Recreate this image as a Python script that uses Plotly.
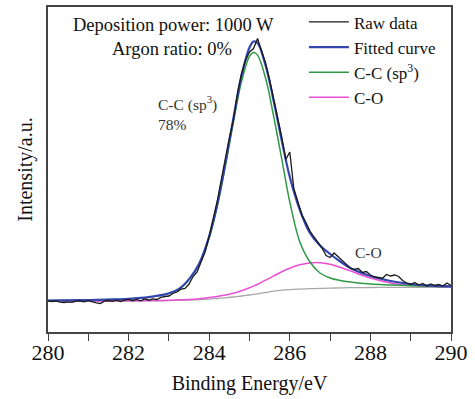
import plotly.graph_objects as go

# Fitted-curve energy grid (eV)
energy = [280, 280.5, 281, 281.5, 282, 282.5, 283, 283.25, 283.5, 283.75, 284, 284.2, 284.4,
          284.6, 284.8, 285.0, 285.1, 285.2, 285.4, 285.6, 285.8, 286.0, 286.25, 286.5, 286.75,
          287, 287.25, 287.5, 288, 288.5, 289, 289.5, 290]

background = [31.0, 31.0, 31.0, 31.0, 31.1, 31.2, 31.4, 31.6, 31.9, 32.3, 32.9, 33.5, 34.2,
              35.0, 36.0, 37.0, 37.6, 38.2, 39.5, 40.8, 41.8, 42.4, 42.9, 43.3, 43.6,
              43.9, 44.1, 44.3, 44.5, 44.6, 44.7, 44.7, 44.7]

cc_sp3 = [31.5, 31.7, 32.0, 32.4, 33.1, 34.7, 38.4, 42.6, 52.2, 67.3, 94.1, 125.7, 165.6,
          209.7, 250.2, 275.7, 279.6, 276.9, 253.7, 215.5, 173.2, 130.0, 90.0, 70.0, 59.0,
          54.0, 51.5, 50.0, 48.0, 47.1, 46.3, 45.7, 45.4]

c_o = [31.0, 31.0, 31.0, 31.1, 31.2, 31.4, 31.7, 32.2, 32.6, 33.3, 34.4, 35.5, 37.0,
       38.8, 41.3, 44.2, 45.9, 47.7, 51.8, 56.1, 60.2, 63.7, 67.2, 69.1, 69.3,
       67.7, 64.7, 61.1, 54.0, 49.1, 46.7, 45.7, 45.3]

fitted = [31.5, 31.7, 32.0, 32.5, 33.2, 34.9, 38.7, 43.2, 52.9, 68.3, 95.6, 127.7, 168.4,
          213.5, 256.0, 284.5, 290.5, 289.0, 266.5, 231.0, 191.6, 155.0, 122.0, 99.0, 86.5,
          78.0, 70.5, 64.0, 56.0, 51.0, 48.0, 46.3, 45.6]

# Raw spectrum
raw_energy = [280.0, 280.1, 280.2, 280.3, 280.4, 280.5, 280.6, 280.7, 280.8, 280.9,
              281.0, 281.1, 281.2, 281.3, 281.4, 281.5, 281.6, 281.7, 281.8, 281.9,
              282.0, 282.1, 282.2, 282.3, 282.4, 282.5, 282.6, 282.7, 282.8, 282.9,
              283.0, 283.1, 283.2, 283.3, 283.4, 283.5, 283.6, 283.7, 283.8, 283.9,
              284.0, 284.1, 284.2, 284.3, 284.4, 284.5, 284.6, 284.7, 284.8, 284.9,
              285.0, 285.1, 285.2, 285.3, 285.4, 285.5, 285.6, 285.7, 285.8, 285.9,
              286.0, 286.1, 286.2, 286.3, 286.4, 286.5, 286.6, 286.7, 286.8, 286.9,
              287.0, 287.1, 287.2, 287.3, 287.4, 287.5, 287.6, 287.7, 287.8, 287.9,
              288.0, 288.1, 288.2, 288.3, 288.4, 288.5, 288.6, 288.7, 288.8, 288.9,
              289.0, 289.1, 289.2, 289.3, 289.4, 289.5, 289.6, 289.7, 289.8, 289.9,
              290.0]
raw_intensity = [31.0, 30.5, 31.2, 29.8, 29.5, 30.2, 29.6, 30.8, 31.0, 30.2,
                 31.3, 30.0, 29.2, 28.5, 30.8, 31.5, 30.6, 31.8, 30.4, 31.9,
                 32.6, 31.3, 32.5, 31.2, 33.0, 31.8, 33.2, 32.5, 34.6, 35.5,
                 36.0, 38.5, 40.0, 42.8, 43.5, 48.0, 55.5, 60.2, 70.5, 80.3,
                 96.0, 113.2, 131.0, 152.5, 174.0, 194.0, 212.0, 238.5, 258.0, 271.5,
                 280.0, 283.5, 293.5, 282.0, 268.5, 252.0, 233.5, 214.0, 195.0, 172.5,
                 180.0, 143.5, 129.0, 117.0, 109.5, 101.0, 95.0, 89.0, 84.0, 76.5,
                 74.5, 79.0, 75.0, 71.5, 68.0, 64.0, 62.5, 63.5, 59.5, 60.5,
                 57.0, 55.0, 54.5, 53.8, 57.5, 56.0, 57.0, 55.5, 51.5, 49.0,
                 47.5, 49.5, 47.0, 48.5, 46.0, 48.0, 46.5, 47.5, 46.0, 49.0,
                 46.5]

FONT = "Liberation Serif"

fig = go.Figure()
fig.add_trace(go.Scatter(x=energy, y=background, mode="lines", line=dict(color="#a8a8a8", width=1.3, shape="spline"),
                         showlegend=False, hoverinfo="skip"))
fig.add_trace(go.Scatter(x=energy, y=c_o, mode="lines", name="C-O", legendrank=4,
                         line=dict(color="#ea4fd6", width=1.5, shape="spline")))
fig.add_trace(go.Scatter(x=energy, y=cc_sp3, mode="lines", name="C-C (sp<sup>3</sup>)", legendrank=3,
                         line=dict(color="#2f9a45", width=1.5, shape="spline")))
fig.add_trace(go.Scatter(x=energy, y=fitted, mode="lines", name="Fitted curve", legendrank=2,
                         line=dict(color="#3346b0", width=2.2, shape="spline")))
fig.add_trace(go.Scatter(x=raw_energy, y=raw_intensity, mode="lines", name="Raw data", legendrank=1,
                         line=dict(color="#1a1a1a", width=1.3)))

fig.update_layout(
    width=475, height=399,
    margin=dict(l=48, r=24, t=7, b=67, autoexpand=False),
    paper_bgcolor="white", plot_bgcolor="white",
    font=dict(family=FONT, color="#111111"),
    showlegend=True,
    legend=dict(x=0.635, y=1.008, xanchor="left", yanchor="top", bgcolor="rgba(0,0,0,0)",
                font=dict(family=FONT, size=17, color="#111111"), tracegroupgap=0,
                borderwidth=0, itemwidth=40),
    xaxis=dict(range=[280, 290], tick0=280, dtick=2, automargin=False,
               ticks="outside", ticklen=7, tickwidth=1.3, tickcolor="#444444",
               minor=dict(dtick=1, ticks="outside", ticklen=7, tickwidth=1.3, tickcolor="#444444", showgrid=False),
               showline=True, linecolor="#444444", linewidth=1.5, mirror=True,
               showgrid=False, zeroline=False, ticklabelstandoff=-7,
               tickfont=dict(family=FONT, size=22, color="#111111"),
               title=dict(text="Binding Energy/eV", font=dict(family=FONT, size=20, color="#111111"), standoff=12)),
    yaxis=dict(range=[0, 325], showticklabels=False, ticks="", automargin=False,
               showline=True, linecolor="#444444", linewidth=1.5, mirror=True,
               showgrid=False, zeroline=False,
               title=dict(text="Intensity/a.u.", font=dict(family=FONT, size=20, color="#111111"), standoff=8)),
    annotations=[
        dict(text="Deposition power: 1000 W", xref="paper", yref="paper", x=0.311, y=0.945,
             showarrow=False, font=dict(family=FONT, size=18.5, color="#111111"), xanchor="center", yanchor="middle"),
        dict(text="Argon ratio: 0%", xref="paper", yref="paper", x=0.308, y=0.87,
             showarrow=False, font=dict(family=FONT, size=18.5, color="#111111"), xanchor="center", yanchor="middle"),
        dict(text="C-C (sp<sup>3</sup>)<br>78%", xref="paper", yref="paper", x=0.268, y=0.674,
             showarrow=False, align="left", font=dict(family=FONT, size=15.5, color="#333333"),
             xanchor="left", yanchor="middle"),
        dict(text="C-O", xref="paper", yref="paper", x=0.796, y=0.246,
             showarrow=False, font=dict(family=FONT, size=15.5, color="#333333"), xanchor="center", yanchor="middle"),
    ],
)

fig.write_html("out.html")
